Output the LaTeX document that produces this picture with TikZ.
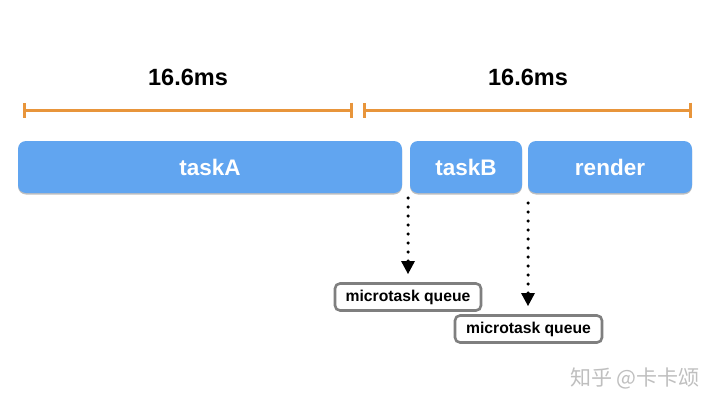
\documentclass[tikz,border=0pt]{standalone}
\usepackage{fontspec}
\setmainfont{Liberation Sans}
\newfontfamily\cjk{Noto Sans CJK SC}
\usetikzlibrary{arrows.meta,shadows}
\definecolor{taskblue}{HTML}{61A5F0}
\definecolor{dimorange}{HTML}{E8953B}
\definecolor{qgray}{HTML}{7F7F7F}
\tikzset{
  taskbox/.style={fill=taskblue, rounded corners=8pt, minimum height=52pt, inner sep=0pt,
    text=white, font=\fontsize{22.5}{26}\selectfont\bfseries,
    drop shadow={shadow xshift=0pt, shadow yshift=-1.5pt, opacity=0.25, fill=black}},
  qbox/.style={draw=qgray, line width=2.6pt, fill=white, rounded corners=5pt, minimum height=27pt,
    inner sep=0pt, font=\fontsize{15.7}{18}\selectfont\bfseries},
  dimline/.style={draw=dimorange, line width=3pt,
    {Bar[width=15pt,line width=3pt]}-{Bar[width=15pt,line width=3pt]}},
  dimlabel/.style={font=\fontsize{23.5}{27}\selectfont\bfseries},
  dotarrow/.style={line width=3.5pt, line cap=round, dash pattern=on 0pt off 9pt,
    -{Triangle[width=14pt,length=13pt,line width=0pt]}}
}
\begin{document}
\begin{tikzpicture}[x=1pt,y=-1pt]
\useasboundingbox[fill=white] (0,0) rectangle (720,407);
% dimension bars
\coordinate (d1s) at (23,110);
\coordinate (d1e) at (353,110);
\coordinate (d2s) at (363,110);
\coordinate (d2e) at (692,110);
\draw[dimline] (d1s) -- (d1e);
\draw[dimline] (d2s) -- (d2e);
\node[dimlabel] (l1) at (188,77) {16.6ms};
\node[dimlabel] (l2) at (528,77) {16.6ms};
% tasks
\node[taskbox, minimum width=384pt] (taskA) at (210,167) {taskA};
\node[taskbox, minimum width=112pt] (taskB) at (466,167) {taskB};
\node[taskbox, minimum width=164pt] (render) at (610,167) {render};
% microtask queues
\node[qbox, minimum width=146pt] (mq1) at (408,297) {microtask queue};
\node[qbox, minimum width=147pt] (mq2) at (528.5,329) {microtask queue};
% arrows
\coordinate (s1) at (408,198);
\coordinate (e1) at (408,274);
\coordinate (s2) at (528,203);
\coordinate (e2) at (528,306);
\draw[dotarrow] (s1) -- (e1);
\draw[dotarrow] (s2) -- (e2);
% watermark
\node[text=black!25, font=\cjk\fontsize{21}{24}\selectfont] (wm) at (635,378) {知乎 @卡卡颂};
\end{tikzpicture}
\end{document}
